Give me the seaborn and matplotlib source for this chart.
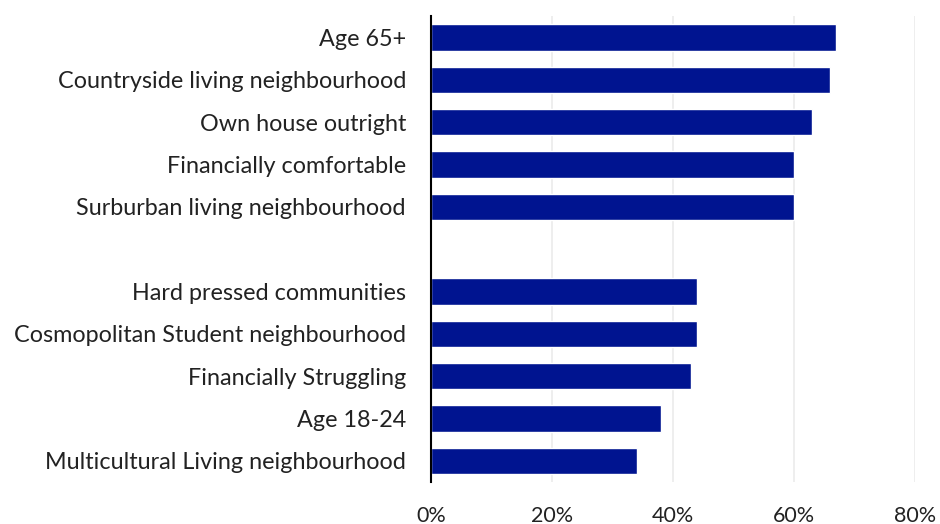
import pandas as pd
import seaborn as sns
from matplotlib import pyplot as plt
from matplotlib.ticker import PercentFormatter

# categories top to bottom, " " is the empty spacer row
groups = ["Age 65+", "Countryside living neighbourhood", "Own house outright",
          "Financially comfortable", "Surburban living neighbourhood",
          "Hard pressed communities", "Cosmopolitan Student neighbourhood",
          "Financially Struggling", "Age 18-24", "Multicultural Living neighbourhood"]
shares = [67, 66, 63, 60, 60, 44, 44, 43, 38, 34]
order = groups[:5] + [" "] + groups[5:]

df = pd.DataFrame({"group": groups, "share": shares})

sns.set_style("white")
plt.rcParams["font.family"] = ["Lato", "DejaVu Sans"]

fig = plt.figure(figsize=(9.4, 5.24), dpi=100)
ax = fig.add_axes([0.4585, 0.08, 0.5145, 0.889])

sns.barplot(data=df, y="group", x="share", order=order, color="#001490",
            saturation=1, width=0.62, ax=ax, orient="h")

ax.set_xlim(0, 80)
ax.set_xticks([0, 20, 40, 60, 80])
ax.xaxis.set_major_formatter(PercentFormatter(decimals=0))
ax.grid(axis="x", color="#ebebeb", linewidth=1.2)
ax.set_axisbelow(True)
for s in ["top", "right", "bottom"]:
    ax.spines[s].set_visible(False)
ax.spines["left"].set_color("black")
ax.spines["left"].set_linewidth(1.5)
ax.set_xlabel("")
ax.set_ylabel("")
ax.tick_params(axis="y", length=0, pad=18, labelsize=16.8, labelcolor="#222222")
ax.tick_params(axis="x", length=0, pad=17, labelsize=15.5, labelcolor="#222222")

plt.savefig("out.png", dpi=100)
